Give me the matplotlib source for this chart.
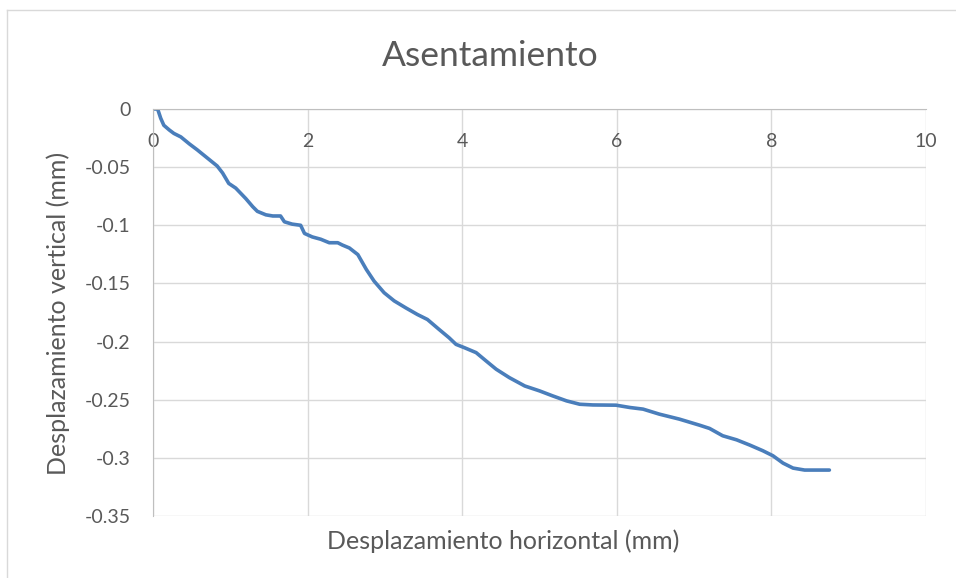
import numpy as np
import matplotlib.pyplot as plt
from matplotlib.lines import Line2D

# datos (mm)
desp_h = [0.02, 0.06, 0.10, 0.14, 0.21, 0.27, 0.36, 0.47, 0.57, 0.70,
          0.83, 0.90, 0.98, 1.07, 1.20, 1.29, 1.35, 1.46, 1.55, 1.65,
          1.70, 1.80, 1.91, 1.96, 2.06, 2.17, 2.28, 2.39, 2.45, 2.54,
          2.65, 2.76, 2.86, 2.99, 3.12, 3.27, 3.42, 3.55, 3.70, 3.83,
          3.92, 4.03, 4.18, 4.31, 4.44, 4.61, 4.81, 5.00, 5.17, 5.35,
          5.52, 5.69, 5.99, 6.17, 6.34, 6.55, 6.81, 7.07, 7.20, 7.37,
          7.55, 7.72, 7.89, 8.02, 8.15, 8.28, 8.43, 8.75]
desp_v = [0.0, 0.0, -0.008, -0.014, -0.018, -0.021, -0.024, -0.030, -0.035, -0.042,
          -0.049, -0.055, -0.064, -0.068, -0.077, -0.084, -0.088, -0.091, -0.092, -0.092,
          -0.097, -0.099, -0.100, -0.107, -0.110, -0.112, -0.115, -0.115, -0.117, -0.1195,
          -0.1252, -0.138, -0.148, -0.158, -0.165, -0.171, -0.1767, -0.181, -0.1895, -0.1967,
          -0.2024, -0.2053, -0.2095, -0.2167, -0.2238, -0.231, -0.2382, -0.2424, -0.2467, -0.251,
          -0.2539, -0.2545, -0.2547, -0.2567, -0.2581, -0.2624, -0.2667, -0.2719, -0.2747, -0.281,
          -0.2845, -0.289, -0.2939, -0.2982, -0.3045, -0.3088, -0.3105, -0.3105]

xticks = [0, 2, 4, 6, 8, 10]
yticks = [0, -0.05, -0.1, -0.15, -0.2, -0.25, -0.3, -0.35]
ytick_labels = ["0", "-0.05", "-0.1", "-0.15", "-0.2", "-0.25", "-0.3", "-0.35"]

plt.rcParams['font.family'] = ['Lato', 'DejaVu Sans']

fig = plt.figure(figsize=(9.56, 5.78), dpi=100)
ax = fig.add_axes([153 / 956, 1 - 516 / 578, (926 - 153) / 956, (516 - 109) / 578])

# marco exterior del grafico
fig.add_artist(Line2D([7 / 956, 1], [1 - 10 / 578, 1 - 10 / 578], color="#D9D9D9", lw=1))
fig.add_artist(Line2D([7 / 956, 7 / 956], [0, 1 - 10 / 578], color="#D9D9D9", lw=1))

ax.plot(desp_h, desp_v, color="#4A7EBB", lw=2.6, solid_capstyle="round")

ax.set_xlim(0, 10)
ax.set_ylim(-0.35, 0)
ax.set_xticks(xticks)
ax.set_xticklabels([str(t) for t in xticks])
ax.set_yticks(yticks)
ax.set_yticklabels(ytick_labels)
ax.grid(True, color="#D9D9D9", lw=1)
ax.set_axisbelow(True)

ax.spines['bottom'].set_position(('data', 0))
ax.spines['bottom'].set_color("#BFBFBF")
ax.spines['left'].set_color("#BFBFBF")
ax.spines['top'].set_visible(False)
ax.spines['right'].set_visible(False)
ax.tick_params(axis='x', length=0, pad=17, labelsize=14, labelcolor="#595959")
ax.tick_params(axis='y', length=0, pad=16, labelsize=14, labelcolor="#595959")

fig.text(490 / 956, 1 - 56 / 578, "Asentamiento", ha="center", va="center",
         fontsize=25.5, color="#595959")
fig.text(503 / 956, 1 - 541 / 578, "Desplazamiento horizontal (mm)", ha="center",
         va="center", fontsize=18, color="#595959")
fig.text(58 / 956, 1 - 313 / 578, "Desplazamiento vertical (mm)", ha="center",
         va="center", rotation=90, fontsize=18, color="#595959")

plt.savefig("out.png", dpi=100)
